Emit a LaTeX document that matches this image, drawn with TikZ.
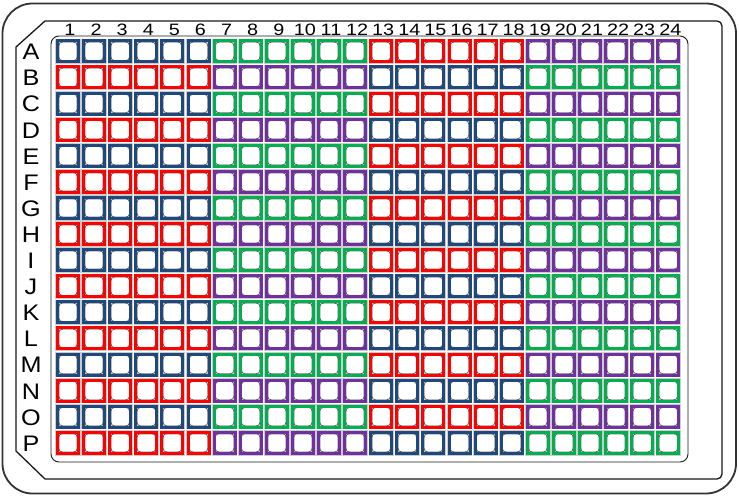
\documentclass[tikz,border=0pt]{standalone}
\usepackage{fontspec}
\setmainfont{Liberation Sans}

\definecolor{well0}{RGB}{31,73,125}   % blue
\definecolor{well1}{RGB}{0,176,80}    % green
\definecolor{well2}{RGB}{255,0,0}     % red
\definecolor{well3}{RGB}{112,48,160}  % purple

\tikzset{
  wellhalo/.style={draw=black!20, line width=4.4pt},
  wellrim/.style={line width=3pt},
  wellcup/.style={draw=black!70, line width=0.6pt, rounded corners=4.5pt},
  collabel/.style={font=\fontsize{16.5}{18}\selectfont, inner sep=0pt, xscale=1.2},
  rowlabel/.style={font=\fontsize{22.5}{24}\selectfont, inner sep=0pt, xscale=1.12},
}

\begin{document}
\begin{tikzpicture}[x=1pt, y=-1pt]
    \useasboundingbox (0,0) rectangle (739,496);

    % Plate outline
    \draw[black!80, line width=1.8pt, rounded corners=30pt] (2.5,3.5) rectangle (736,493.5);

    % Skirt with chamfered corners (A1 / P1 side)
    \draw[black!90, line width=1.3pt] (45,21) -- (717,21) to[out=0, in=90] (722,26)
        -- (722,474) to[out=-90, in=0] (717,479) -- (45,479) -- (16,451) -- (16,47) -- cycle;

    % Well area
    \draw[black!90, line width=0.9pt, rounded corners=8pt] (51,36) rectangle (688,462);

    % Column numbers
    \foreach \n in {1,...,24} {
        \node[collabel] (col\n) at ({70 + 26.1*(\n-1)}, 29.5) {\n};
    }

    % Row letters
    \foreach \l [count=\i from 0] in {A,...,P} {
        \node[rowlabel] (row\l) at (31, {52 + 26.1*\i}) {\l};
    }

    % Wells: blocks of 6 columns, colour order swaps every row
    \begin{scope}[shift={(56,39.3)}]
    \foreach \r in {0,...,15} {
        \pgfmathtruncatemacro{\odd}{mod(\r,2)}
        \foreach \c in {0,...,23} {
            \pgfmathtruncatemacro{\blk}{mod(int(\c/6) + 2*\odd, 4)}
            \draw[wellhalo] ({\c*26.1+1.5}, {\r*26.1+1.5}) rectangle ++(21,21);
            \draw[wellcup] ({\c*26.1+2.5}, {\r*26.1+2.5}) rectangle ++(19,19);
            \draw[wellrim, draw=well\blk] ({\c*26.1+1.5}, {\r*26.1+1.5}) rectangle ++(21,21);
        }
    }
    \end{scope}
\end{tikzpicture}
\end{document}
